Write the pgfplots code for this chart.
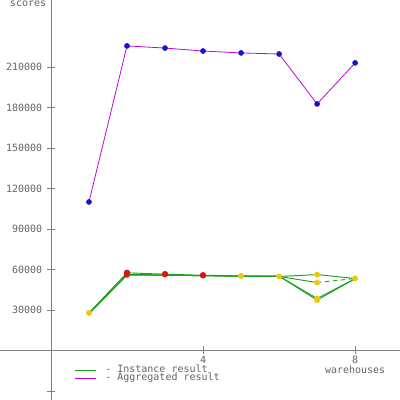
\documentclass[border=0pt]{standalone}
\usepackage{pgfplots}
\pgfplotsset{compat=1.18}
\usepackage{fontspec}
\setmainfont{DejaVu Sans Mono}

\definecolor{axisgray}{RGB}{128,128,128}
\definecolor{labelgray}{RGB}{100,100,100}
\definecolor{instgreen}{RGB}{30,160,30}
\definecolor{aggmag}{RGB}{200,0,220}
\definecolor{markblue}{RGB}{20,20,200}
\definecolor{markred}{RGB}{220,20,20}
\definecolor{markyellow}{RGB}{235,200,20}

\begin{document}
\begin{tikzpicture}
\begin{axis}[
    at={(0,0)}, anchor=south west,
    scale only axis, width=300pt, height=300pt,
    xmin=-1.34, xmax=9.18, ymin=-36700, ymax=259600,
    axis lines=middle,
    axis line style={-, axisgray, line width=0.6pt},
    xtick={4,8},
    ytick={-30000,30000,60000,90000,120000,150000,180000,210000},
    yticklabels={,30000,60000,90000,120000,150000,180000,210000},
    scaled y ticks=false,
    /pgf/number format/1000 sep={},
    /pgf/number format/assume math mode=true,
    tick align=center, major tick length=6pt,
    tick style={axisgray, line width=0.5pt},
    ticklabel style={font=\fontsize{7.5}{8}\selectfont, text=labelgray},
    xticklabel style={inner sep=1pt},
    clip=false,
    legend style={at={(axis cs:0.62,-11500)}, anchor=north west, draw=none, fill=none,
        font=\fontsize{7.5}{6}\selectfont, text=labelgray, inner sep=0pt,
        row sep=0pt,
        nodes={inner sep=0pt, text height=5pt, text depth=1pt}},
    legend cell align=left,
    legend image code/.code={\draw[#1] (0cm,0cm) -- (0.55cm,0cm);
        \path (0.78cm,0cm);},
]
% instance results (4 instances)
\addplot[instgreen, line width=0.7pt] coordinates {
 (1,27800) (2,57500) (3,56500) (4,55700) (5,55200) (6,54800) (7,56200) (8,53300)};
\addlegendentry{- Instance result}
\addplot[instgreen, line width=0.7pt, forget plot] coordinates {
 (1,27500) (2,56300) (3,56000) (4,55300) (5,55000) (6,54800) (7,50300)};
\addplot[instgreen, line width=0.7pt, dashed, forget plot] coordinates {
 (7,50300) (8,53300)};
\addplot[instgreen, line width=0.7pt, forget plot] coordinates {
 (1,27400) (2,56000) (3,55800) (4,55400) (5,55100) (6,55000) (7,38500) (8,53200)};
\addplot[instgreen, line width=0.7pt, forget plot] coordinates {
 (1,27300) (2,55800) (3,55700) (4,55400) (5,55100) (6,55000) (7,37300) (8,53200)};
% aggregated
\addplot[aggmag, line width=0.6pt, mark=*, mark size=1.8pt,
    mark options={markblue, fill=markblue}] coordinates {
 (1,110000) (2,225600) (3,224000) (4,221800) (5,220400) (6,219600) (7,182600) (8,213000)};
\addlegendentry{- Aggregated result}
% markers on instance points
\addplot[only marks, mark=*, mark size=2pt, markyellow, forget plot] coordinates {
 (1,27800) (5,55200) (6,54800) (7,56200) (7,50300) (7,38500) (7,37300) (8,53300)};
\addplot[only marks, mark=*, mark size=2.2pt, markred, forget plot] coordinates {
 (2,57500) (2,56300) (3,56500) (4,55700)};
\node[font=\fontsize{7.5}{8}\selectfont, text=labelgray, anchor=north, inner sep=0pt]
    at (axis cs:8,-11300) {warehouses};
\node[font=\fontsize{7.5}{8}\selectfont, text=labelgray, anchor=north east, inner sep=0pt]
    at (axis cs:-0.12,259000) {scores};
\end{axis}
\pgfresetboundingbox
\path[use as bounding box] (0,0) rectangle (300pt,300pt);
\end{tikzpicture}
\end{document}
